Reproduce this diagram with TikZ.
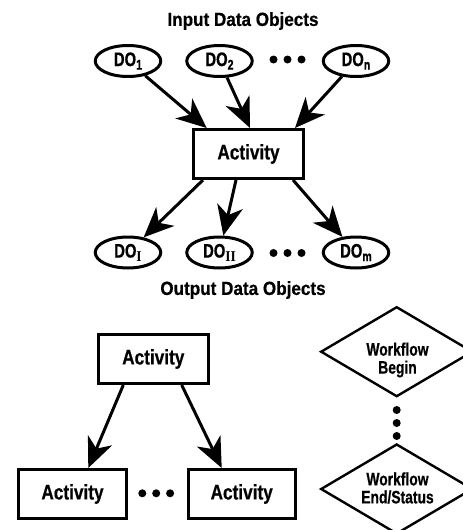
\documentclass[tikz,border=0pt]{standalone}
\usepackage{fontspec}
\setmainfont{Liberation Sans}
\newfontfamily\ttlfam{Liberation Sans}[FakeStretch=0.9,BoldFeatures={FakeBold=0.6}]
\newfontfamily\actfam{Liberation Sans}[FakeStretch=0.82,BoldFeatures={FakeBold=0.6}]
\newfontfamily\dofam{Liberation Sans}[FakeStretch=0.76,BoldFeatures={FakeBold=0.6}]
\newfontfamily\wffam{Liberation Sans}[FakeStretch=0.77,BoldFeatures={FakeBold=0.6}]
\newfontfamily\romfam{Liberation Serif}[FakeStretch=0.9]
\usetikzlibrary{shapes.geometric,arrows.meta,calc}
\tikzset{
  dobj/.style={ellipse,draw,line width=3pt,minimum width=65.5pt,minimum height=31pt,inner sep=0pt,font=\dofam\fontsize{19.5}{19.5}\bfseries\selectfont},
  actbox/.style={rectangle,draw,line width=3pt,inner sep=0pt,minimum height=49pt,font=\actfam\fontsize{21}{21}\bfseries\selectfont},
  wfdiam/.style={diamond,draw,line width=2.4pt,inner sep=0pt,minimum width=152pt,minimum height=90pt},
  wftext/.style={inner sep=0pt,align=center,font=\wffam\fontsize{18}{18}\bfseries\selectfont},
  ttl/.style={font=\ttlfam\fontsize{19}{19}\bfseries\selectfont},
  arr/.style={line width=3pt,-{Stealth[length=30pt,width=26pt,inset=9pt]}},
  dot/.style={circle,fill,inner sep=0pt,minimum size=8pt}
}
\newcommand{\sbs}[1]{\raisebox{-3.5pt}{\fontsize{14}{12}\selectfont #1}}
\newcommand{\sbr}[1]{\raisebox{-3.5pt}{\romfam\fontsize{15}{12}\selectfont\bfseries #1}}
\begin{document}
\begin{tikzpicture}[x=1pt,y=-1pt]
\useasboundingbox (0,0) rectangle (463,530);
\clip (0,0) rectangle (463,530);
% top part
\node[ttl] (tin) at (243,21) {Input Data Objects};
\node[dobj] (d1) at (128,61) {DO\sbs{1}};
\node[dobj] (d2) at (219.5,61) {DO\sbs{2}};
\node[dobj] (dn) at (356,61) {DO\sbs{n}};
\node[dot] (t1) at (273.5,59.5) {};
\node[dot] (t2) at (287.5,59.5) {};
\node[dot] (t3) at (301.5,59.5) {};
\node[actbox,minimum width=110pt] (act) at (248.5,154) {Activity};
\draw[arr] (d1) -- ([xshift=-41.8pt]act.north);
\draw[arr] (d2) -- ([xshift=1.5pt]act.north);
\draw[arr] (dn) -- ([xshift=46.5pt]act.north);
\node[dobj] (oI) at (128,252.5) {DO\sbr{I}};
\node[dobj] (oII) at (219.5,252.5) {DO\sbr{II}};
\node[dobj] (om) at (356,252.5) {DO\sbs{m}};
\node[dot] (u1) at (273.5,253) {};
\node[dot] (u2) at (287.5,253) {};
\node[dot] (u3) at (301.5,253) {};
\draw[arr] ([xshift=-45.5pt]act.south) -- (oI);
\draw[arr] ([xshift=-12.5pt]act.south) -- (oII);
\draw[arr] ([xshift=44.5pt]act.south) -- (om);
\node[ttl] (tout) at (243,290) {Output Data Objects};
% bottom left
\node[actbox,minimum width=110pt] (a0) at (153.3,359) {Activity};
\node[actbox,minimum width=108.5pt] (a1) at (72.5,494) {Activity};
\node[actbox,minimum width=107pt] (a2) at (241.7,494) {Activity};
\node[dot] (b1) at (142.3,493.3) {};
\node[dot] (b2) at (156.2,493.3) {};
\node[dot] (b3) at (170.1,493.3) {};
\draw[arr] ([xshift=-30pt]a0.south) -- ([xshift=15.8pt]a1.north);
\draw[arr] ([xshift=28.4pt]a0.south) -- ([xshift=-20pt]a2.north);
% bottom right
\node[wfdiam] (wb) at (396.7,351.7) {};
\node[wftext] (wbt) at (397.5,360) {Workflow\\Begin};
\node[dot] (v1) at (396.7,410) {};
\node[dot] (v2) at (396.7,423) {};
\node[dot] (v3) at (396.7,436) {};
\node[wfdiam] (we) at (396.7,489) {};
\node[wftext] (wet) at (397.5,488) {Workflow\\End/Status};
\end{tikzpicture}
\end{document}
